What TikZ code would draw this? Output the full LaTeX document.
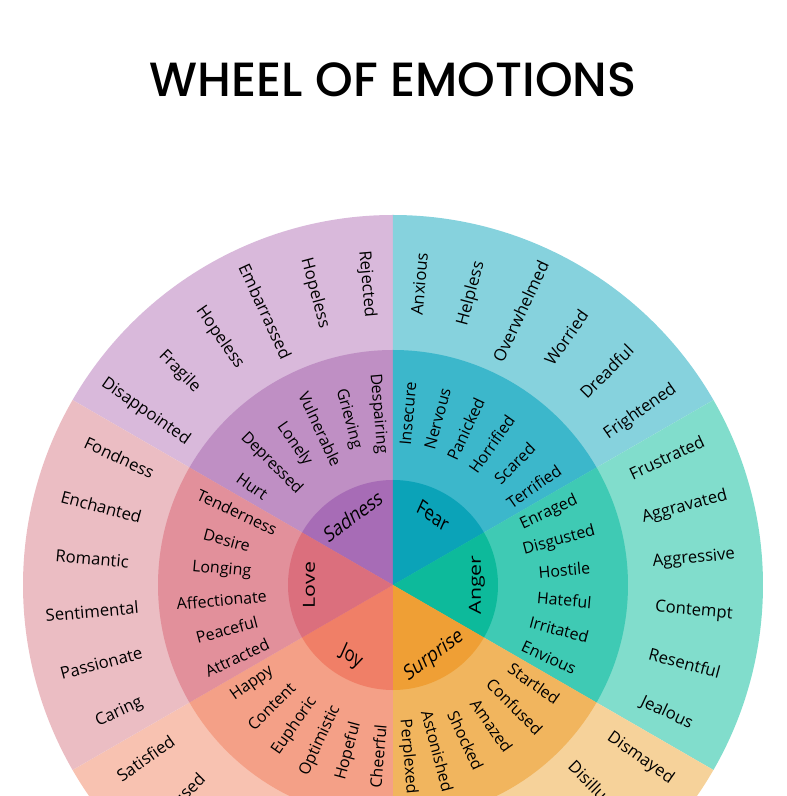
\documentclass[tikz,border=0pt]{standalone}
\usepackage{fontspec}
\setmainfont{Open Sans}
\newfontfamily\titlefont{Poppins}[UprightFont=* Medium]
\usepackage{xcolor}
\usetikzlibrary{positioning}

\definecolor{sadA}{HTML}{D9B9DB}
\definecolor{sadB}{HTML}{BF8FC4}
\definecolor{sadC}{HTML}{A76CB6}
\definecolor{fearA}{HTML}{86D2DD}
\definecolor{fearB}{HTML}{3CB7CB}
\definecolor{fearC}{HTML}{0BA3B8}
\definecolor{angA}{HTML}{81DDCC}
\definecolor{angB}{HTML}{3FCAB4}
\definecolor{angC}{HTML}{0DBA9B}
\definecolor{surA}{HTML}{F6D29A}
\definecolor{surB}{HTML}{F1B55E}
\definecolor{surC}{HTML}{EF9F35}
\definecolor{joyA}{HTML}{F8C2B1}
\definecolor{joyB}{HTML}{F4A087}
\definecolor{joyC}{HTML}{F07F67}
\definecolor{lovA}{HTML}{EBBDC3}
\definecolor{lovB}{HTML}{E2909B}
\definecolor{lovC}{HTML}{DB6F7D}

\tikzset{
  outword/.style={font=\fontsize{12.5}{14}\selectfont, inner sep=0pt},
  midword/.style={font=\fontsize{12}{14}\selectfont, inner sep=0pt},
  coreword/.style={font=\fontsize{16}{18}\selectfont, inner sep=0pt, xscale=0.78}
}

\newcommand{\wedgefill}[4]{\fill[#1] (0,0) -- (#2:#4) arc[start angle=#2, end angle=#3, radius=#4] -- cycle;}

\begin{document}
\begin{tikzpicture}[x=0.75pt,y=0.75pt]

\useasboundingbox (-393,-211) rectangle (394,585);
\clip (-393,-211) rectangle (394,585);

\node[font=\titlefont\fontsize{36}{40}\selectfont] (title) at (0,505) {WHEEL OF EMOTIONS};

% outer ring
\wedgefill{sadA}{90}{150}{370}
\wedgefill{fearA}{30}{90}{370}
\wedgefill{angA}{-30}{30}{370}
\wedgefill{surA}{-90}{-30}{370}
\wedgefill{joyA}{-150}{-90}{370}
\wedgefill{lovA}{150}{210}{370}

% middle ring
\wedgefill{sadB}{90}{150}{235}
\wedgefill{fearB}{30}{90}{235}
\wedgefill{angB}{-30}{30}{235}
\wedgefill{surB}{-90}{-30}{235}
\wedgefill{joyB}{-150}{-90}{235}
\wedgefill{lovB}{150}{210}{235}

% inner ring
\wedgefill{sadC}{90}{150}{105}
\wedgefill{fearC}{30}{90}{105}
\wedgefill{angC}{-30}{30}{105}
\wedgefill{surC}{-90}{-30}{105}
\wedgefill{joyC}{-150}{-90}{105}
\wedgefill{lovC}{150}{210}{105}

% left half reads inwards
\foreach \a/\w [count=\i] in {95/Rejected,105/Hopeless,115/Embarrassed,125/Hopeless,135/Fragile,145/Disappointed,
  155/Fondness,165/Enchanted,175/Romantic,185/Sentimental,195/Passionate,205/Caring,215/Satisfied,225/Amused}
  \node[outword, rotate=\a+180] (o\i) at (\a:302) {\w};
\foreach \a/\w [count=\i] in {95/Despairing,105/Grieving,115/Vulnerable,125/Lonely,135/Depressed,145/Hurt,
  155/Tenderness,165/Desire,175/Longing,185/Affectionate,195/Peaceful,205/Attracted,
  215/Happy,225/Content,235/Euphoric,245/Optimistic,255/Hopeful,265/Cheerful}
  \node[midword, rotate=\a+180] (m\i) at (\a:172) {\w};

% right half reads outwards
\foreach \a/\w [count=\i] in {85/Anxious,75/Helpless,65/Overwhelmed,55/Worried,45/Dreadful,35/Frightened,
  25/Frustrated,15/Aggravated,5/Aggressive,-5/Contempt,-15/Resentful,-25/Jealous,-35/Dismayed,-45/Disillusioned}
  \node[outword, rotate=\a] (p\i) at (\a:302) {\w};
\foreach \a/\w [count=\i] in {85/Insecure,75/Nervous,65/Panicked,55/Horrified,45/Scared,35/Terrified,
  25/Enraged,15/Disgusted,5/Hostile,-5/Hateful,-15/Irritated,-25/Envious,
  -35/Startled,-45/Confused,-55/Amazed,-65/Shocked,-75/Astonished,-85/Perplexed}
  \node[midword, rotate=\a] (n\i) at (\a:172) {\w};

% core
\node[coreword, rotate=30] (sadness) at (120:80) {Sadness};
\node[coreword, rotate=-30] (fear) at (60:80) {Fear};
\node[coreword, rotate=90] (anger) at (0:84) {Anger};
\node[coreword, rotate=30] (surprise) at (-60:82) {Surprise};
\node[coreword, rotate=-30] (joy) at (-120:84) {Joy};
\node[coreword, rotate=90] (love) at (180:84) {Love};

\end{tikzpicture}
\end{document}
